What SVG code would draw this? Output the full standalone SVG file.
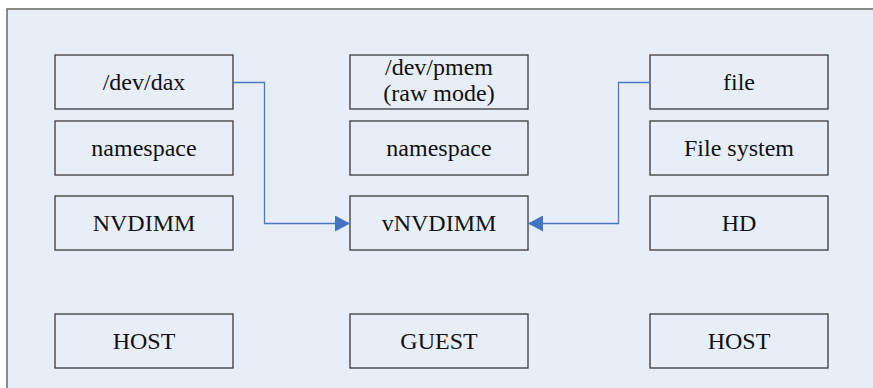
<svg xmlns="http://www.w3.org/2000/svg" width="873" height="388" viewBox="0 0 873 388">
<defs>
<style>
.bg{fill:#E8EEF8;stroke:#666;stroke-width:1.5}
.box{fill:#E8EEF8;stroke:#3a3a3a;stroke-width:1.3}
.t{font-family:"Liberation Serif","Times New Roman",serif;font-size:24px;fill:#111;text-anchor:middle}
.c{fill:none;stroke:#4A78C2;stroke-width:1.3}
</style>
<marker id="ah" markerWidth="15" markerHeight="16" refX="15" refY="8" orient="auto" markerUnits="userSpaceOnUse">
<path d="M0,0 L15,8 L0,16 Z" fill="#4472C4"/>
</marker>
</defs>
<rect class="bg" x="7" y="9" width="880" height="390"/>
<g id="n-dax"><rect class="box" x="55" y="55" width="178" height="54"/><text class="t" x="144" y="90">/dev/dax</text></g>
<g id="n-ns1"><rect class="box" x="55" y="121" width="178" height="54"/><text class="t" x="144" y="156">namespace</text></g>
<g id="n-nvdimm"><rect class="box" x="55" y="196" width="178" height="54"/><text class="t" x="144" y="231">NVDIMM</text></g>
<g id="n-host1"><rect class="box" x="55" y="314" width="178" height="54"/><text class="t" x="144" y="349">HOST</text></g>
<g id="n-pmem"><rect class="box" x="350" y="55" width="178" height="54"/><text class="t" x="439" y="75">/dev/pmem</text><text class="t" x="439" y="101">(raw mode)</text></g>
<g id="n-ns2"><rect class="box" x="350" y="121" width="178" height="54"/><text class="t" x="439" y="156">namespace</text></g>
<g id="n-vnvdimm"><rect class="box" x="350" y="196" width="178" height="54"/><text class="t" x="439" y="231">vNVDIMM</text></g>
<g id="n-guest"><rect class="box" x="350" y="314" width="178" height="54"/><text class="t" x="439" y="349">GUEST</text></g>
<g id="n-file"><rect class="box" x="650" y="55" width="178" height="54"/><text class="t" x="739" y="90">file</text></g>
<g id="n-fs"><rect class="box" x="650" y="121" width="178" height="54"/><text class="t" x="739" y="156">File system</text></g>
<g id="n-hd"><rect class="box" x="650" y="196" width="178" height="54"/><text class="t" x="739" y="231">HD</text></g>
<g id="n-host2"><rect class="box" x="650" y="314" width="178" height="54"/><text class="t" x="739" y="349">HOST</text></g>
<g id="connectors">
<path class="c" d="M233,82.5 H264.5 V223.5 H350" marker-end="url(#ah)"/>
<path class="c" d="M650,82.5 H618.5 V223.5 H528" marker-end="url(#ah)"/>
</g>
</svg>
